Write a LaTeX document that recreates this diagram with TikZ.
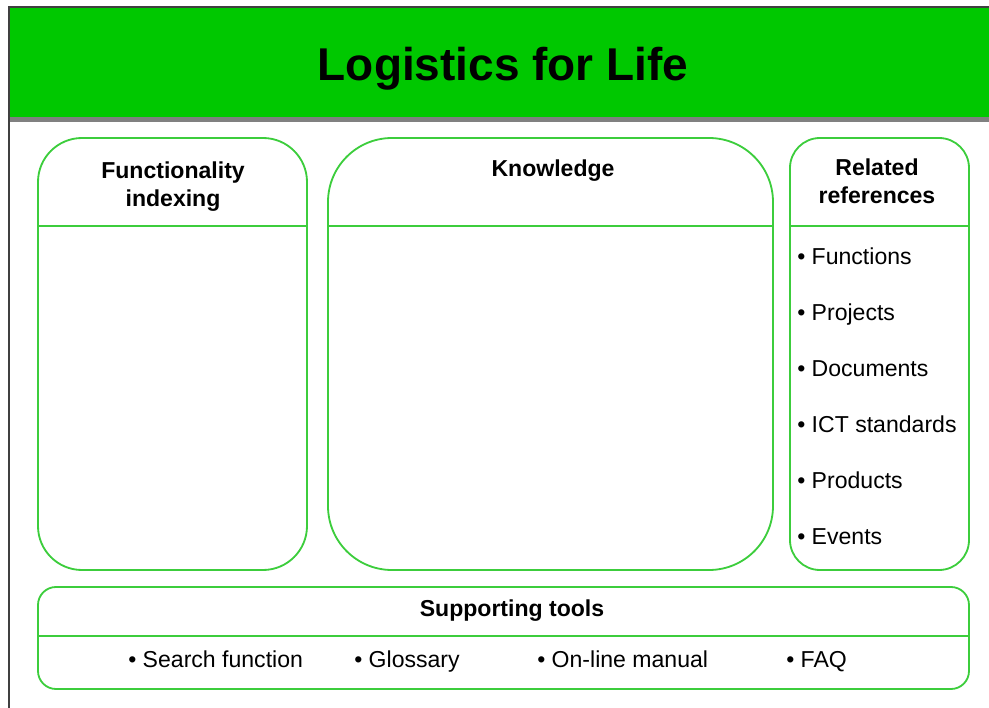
\documentclass[tikz,border=0pt]{standalone}
\usepackage{fontspec}
\setmainfont{Liberation Sans}
\usetikzlibrary{positioning}

\definecolor{bandgreen}{RGB}{0,200,0}
\definecolor{boxgreen}{RGB}{60,205,60}
\definecolor{framegray}{RGB}{64,64,64}
\definecolor{bargray}{RGB}{128,128,128}

\tikzset{
	panel/.style={draw=boxgreen, line width=1.3pt, rounded corners=#1, inner sep=0pt},
	divider/.style={boxgreen, line width=1.3pt},
	head/.style={font=\fontsize{16.4}{19.9}\selectfont\bfseries, align=center, inner sep=0pt},
	item/.style={font=\fontsize{16.4}{19.9}\selectfont, anchor=base west, inner sep=0pt}
}

\begin{document}
\begin{tikzpicture}
	
		\useasboundingbox (0,0) rectangle (24.725,-17.7);
		
		% Title band with grey bar below
		\fill [bandgreen] (0.225,-0.2) rectangle (24.725,-2.925);
		\fill [bargray] (0.225,-2.925) rectangle (24.725,-3.05);
		\draw [framegray, line width=1pt] (24.725,-0.175) -- (0.225,-0.175) -- (0.225,-17.7);
		\node [anchor=base, inner sep=0pt] (title) at (12.575,-2.025) {\fontsize{32.7}{36}\selectfont\bfseries Logistics for Life};
		
		% Three columns
		\node [panel=1.1cm, minimum width=6.725cm, minimum height=10.8cm] (index) at (4.3125,-8.85) {};
		\node [panel=1.6cm, minimum width=11.125cm, minimum height=10.8cm] (know) at (13.7625,-8.85) {};
		\node [panel=0.75cm, minimum width=4.475cm, minimum height=10.8cm] (refs) at (21.9875,-8.85) {};
		
		% Header lines
		\coordinate (headline) at (0,-5.65);
		\draw [divider] (index.west |- headline) -- (index.east |- headline);
		\draw [divider] (know.west |- headline) -- (know.east |- headline);
		\draw [divider] (refs.west |- headline) -- (refs.east |- headline);
		
		% Headers
		\node [head] (indexhead) at (4.325,-4.675) {Functionality\\indexing};
		\node [head] (knowhead) at (13.825,-4.275) {Knowledge};
		\node [head] (refshead) at (21.925,-4.525) {Related\\references};
		
		% Related references
		\foreach \name [count=\i] in {Functions, Projects, Documents, ICT standards, Products, Events}
			\node [item] (ref\i) at (19.925,{-5.225-1.4*\i}) {\textbullet\ \name};
		
		% Supporting tools
		\node [panel=0.45cm, minimum width=23.275cm, minimum height=2.55cm] (tools) at (12.5875,-15.95) {};
		\coordinate (toolline) at (0,-15.9);
		\draw [divider] (tools.west |- toolline) -- (tools.east |- toolline);
		\node [head, anchor=base] (toolshead) at (12.8,-15.4) {Supporting tools};
		
		\node [item] (search) at (3.2,-16.675) {\textbullet\ Search function};
		\node [item] (gloss) at (8.85,-16.675) {\textbullet\ Glossary};
		\node [item] (manual) at (13.425,-16.675) {\textbullet\ On-line manual};
		\node [item] (faq) at (19.65,-16.675) {\textbullet\ FAQ};
	
	\end{tikzpicture}
\end{document}
